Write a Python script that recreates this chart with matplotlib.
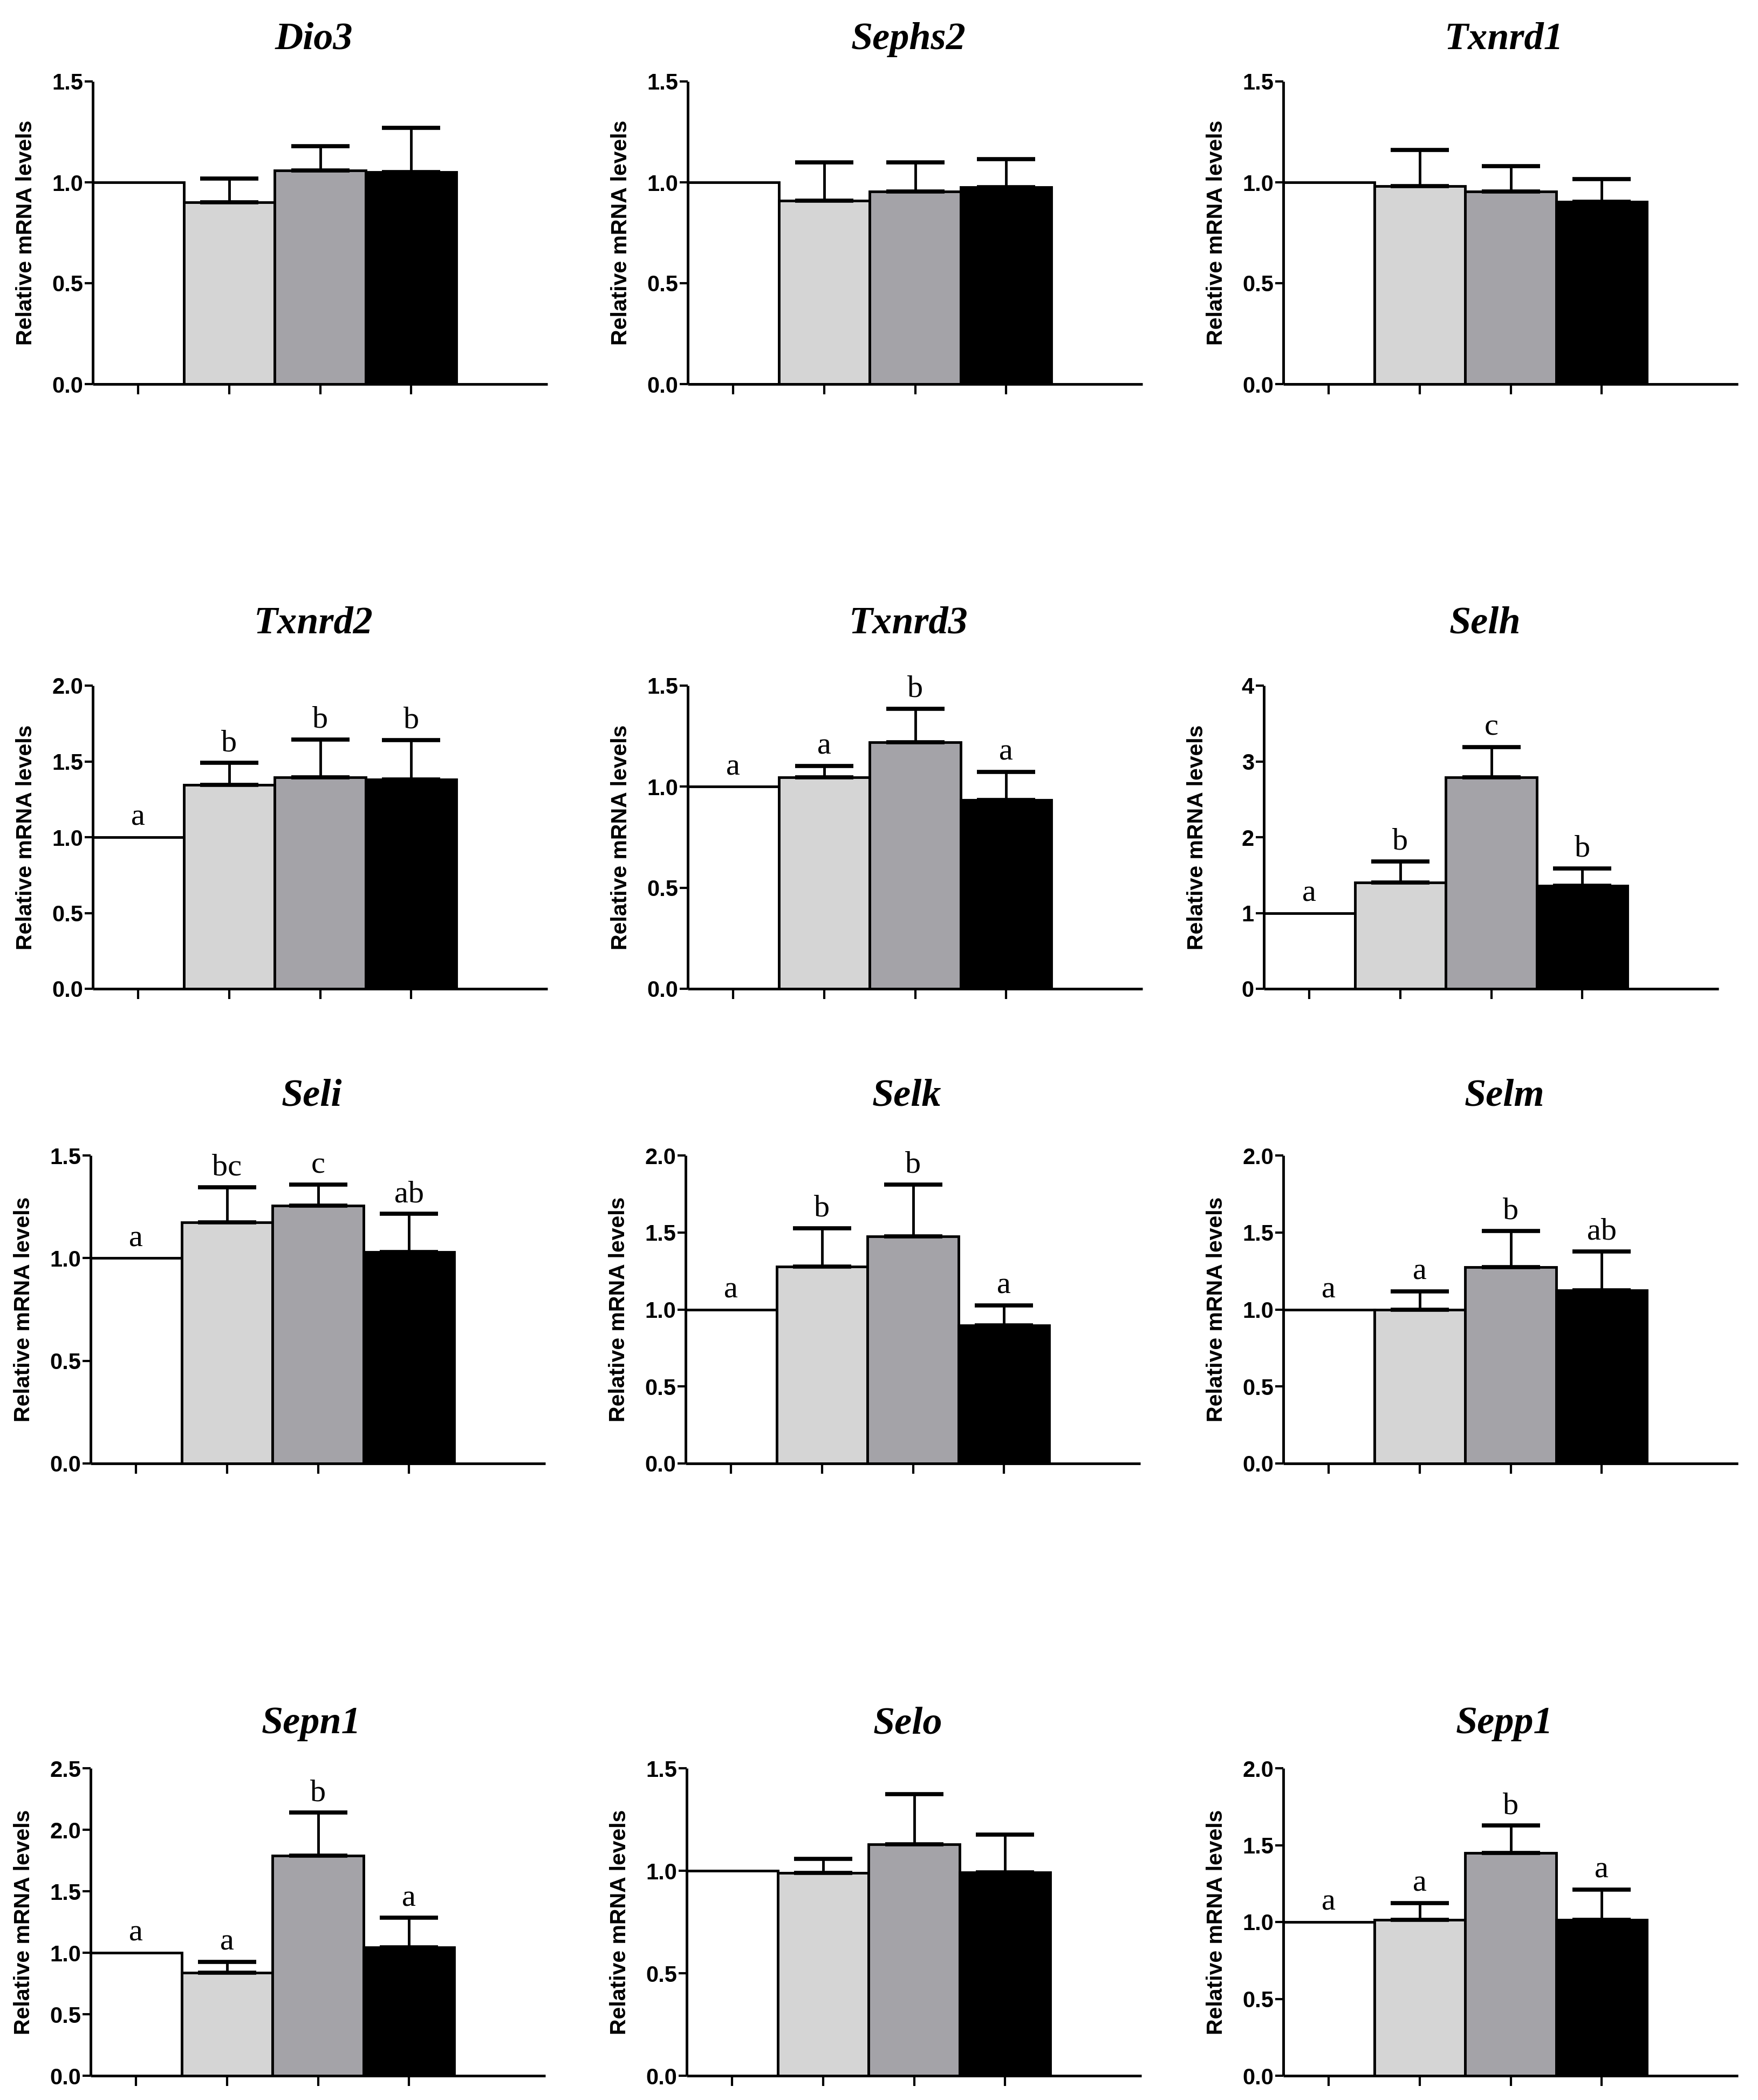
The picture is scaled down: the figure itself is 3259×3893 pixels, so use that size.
import matplotlib
matplotlib.use('Agg')
import matplotlib.pyplot as plt
from matplotlib.ticker import FormatStrFormatter, MultipleLocator
import numpy as np

# ---------------- data ----------------
genes = ['Dio3', 'Sephs2', 'Txnrd1', 'Txnrd2', 'Txnrd3', 'Selh',
         'Seli', 'Selk', 'Selm', 'Sepn1', 'Selo', 'Sepp1']

dio3_mean = [1.00, 0.90, 1.06, 1.05]
dio3_err = [0.0, 0.12, 0.12, 0.22]
sephs2_mean = [1.00, 0.91, 0.955, 0.975]
sephs2_err = [0.0, 0.19, 0.145, 0.14]
txnrd1_mean = [1.00, 0.98, 0.955, 0.905]
txnrd1_err = [0.0, 0.18, 0.125, 0.11]
txnrd2_mean = [1.00, 1.345, 1.395, 1.38]
txnrd2_err = [0.0, 0.145, 0.25, 0.26]
txnrd3_mean = [1.00, 1.047, 1.22, 0.933]
txnrd3_err = [0.0, 0.055, 0.165, 0.14]
selh_mean = [1.00, 1.40, 2.79, 1.36]
selh_err = [0.0, 0.28, 0.40, 0.23]
seli_mean = [1.00, 1.175, 1.257, 1.03]
seli_err = [0.0, 0.17, 0.10, 0.185]
selk_mean = [1.00, 1.28, 1.476, 0.896]
selk_err = [0.0, 0.247, 0.336, 0.131]
selm_mean = [1.00, 1.00, 1.276, 1.126]
selm_err = [0.0, 0.118, 0.234, 0.25]
sepn1_mean = [1.00, 0.836, 1.789, 1.046]
sepn1_err = [0.0, 0.089, 0.35, 0.237]
selo_mean = [1.00, 0.989, 1.13, 0.993]
selo_err = [0.0, 0.07, 0.243, 0.183]
sepp1_mean = [1.00, 1.015, 1.448, 1.015]
sepp1_err = [0.0, 0.108, 0.179, 0.195]

means = [dio3_mean, sephs2_mean, txnrd1_mean, txnrd2_mean, txnrd3_mean, selh_mean,
         seli_mean, selk_mean, selm_mean, sepn1_mean, selo_mean, sepp1_mean]
errs = [dio3_err, sephs2_err, txnrd1_err, txnrd2_err, txnrd3_err, selh_err,
        seli_err, selk_err, selm_err, sepn1_err, selo_err, sepp1_err]

letters = [
    [], [], [],
    ['a', 'b', 'b', 'b'], ['a', 'a', 'b', 'a'], ['a', 'b', 'c', 'b'],
    ['a', 'bc', 'c', 'ab'], ['a', 'b', 'b', 'a'], ['a', 'a', 'b', 'ab'],
    ['a', 'a', 'b', 'a'], [], ['a', 'a', 'b', 'a'],
]

y_max = [1.5, 1.5, 1.5, 2.0, 1.5, 4, 1.5, 2.0, 2.0, 2.5, 1.5, 2.0]
y_step = [0.5, 0.5, 0.5, 0.5, 0.5, 1, 0.5, 0.5, 0.5, 0.5, 0.5, 0.5]

bar_colors = ['#ffffff', '#d5d5d5', '#a4a3a8', '#000000']
ylabel = 'Relative mRNA levels'

# ---------------- layout ----------------
W, H = 3259, 3893
DPI = 100
col_left = [172, 1275, 2379]
x_shift = [0, 0, 0, 0, 0, -36, -4, -4, 0, -4, -2, 0]
ax_w = 843
row_top = [151, 1271, 2142, 3278]
row_bot = [712, 1833, 2713, 3848]
title_y = [73, 1156, 2032, 3196]

fig = plt.figure(figsize=(W / DPI, H / DPI), dpi=DPI)
fig.patch.set_facecolor('white')

tick_family = ['Liberation Sans Narrow', 'Liberation Sans', 'DejaVu Sans']

for i, gene in enumerate(genes):
    r, c = divmod(i, 3)
    l = col_left[c] + x_shift[i]
    top, bot = row_top[r], row_bot[r]
    ax = fig.add_axes([l / W, 1 - bot / H, ax_w / W, (bot - top) / H])

    x = np.arange(4)
    m = np.array(means[i])
    e = np.array(errs[i])
    ax.bar(x, m, width=1.0, color=bar_colors, edgecolor='black',
           linewidth=3.5, zorder=2)
    ax.errorbar(x[1:], m[1:], yerr=[np.zeros(3), e[1:]], fmt='none',
                ecolor='black', elinewidth=3.5, capsize=39, capthick=5.5,
                zorder=3)

    ax.set_xlim(-0.5, 4.5)
    ax.set_ylim(0, y_max[i])
    ax.yaxis.set_major_locator(MultipleLocator(y_step[i]))
    ax.yaxis.set_major_formatter(FormatStrFormatter('%d' if y_step[i] >= 1 else '%.1f'))
    ax.set_xticks(x)
    ax.set_xticklabels([])

    for s in ['top', 'right']:
        ax.spines[s].set_visible(False)
    for s in ['left', 'bottom']:
        ax.spines[s].set_linewidth(3.5)
        ax.spines[s].set_capstyle('butt')

    ax.tick_params(axis='x', direction='out', length=14, width=3)
    ax.tick_params(axis='y', direction='out', length=11, width=3, pad=2)
    for lbl in ax.get_yticklabels():
        lbl.set_fontfamily(tick_family)
        lbl.set_fontweight('bold')
        lbl.set_fontsize(30)

    ax.set_ylabel(ylabel, fontsize=29.5, fontweight='bold',
                  family=['Liberation Sans', 'DejaVu Sans'])
    ax.yaxis.set_label_coords(-0.125, 0.5)

    for j, let in enumerate(letters[i]):
        ax.annotate(let, xy=(x[j], m[j] + e[j]), xytext=(0, 16),
                    textcoords='offset points', ha='center', va='baseline',
                    fontsize=42, family=['Liberation Serif', 'DejaVu Serif'])

    fig.text((l + ax_w / 2 - 12) / W, 1 - title_y[r] / H, gene,
             ha='center', va='center', fontsize=52, fontstyle='italic',
             fontweight='bold', family=['Liberation Serif', 'DejaVu Serif'])

fig.savefig('out.png', dpi=DPI, facecolor='white')
